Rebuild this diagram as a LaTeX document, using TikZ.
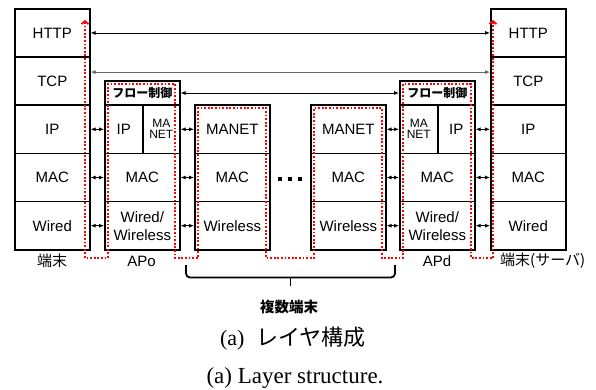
\documentclass[tikz,border=0pt]{standalone}
\usepackage{fontspec}
\setmainfont{Liberation Serif}
\newfontfamily\sansf{Liberation Sans}
\newfontfamily\jpf{Noto Sans CJK JP}
\usetikzlibrary{arrows.meta}

\begin{document}
\begin{tikzpicture}[x=1pt,y=-1pt,
  cell/.style={draw, line width=1.6pt, inner sep=0pt, anchor=north west,
    align=center, font=\sansf\fontsize{15}{18}\selectfont},
  row/.style={cell, minimum width=75, minimum height=48.2},
  half/.style={cell, minimum width=#1, minimum height=48.2},
  flowbox/.style={cell, minimum width=75, minimum height=24.4,
    font=\jpf\bfseries\fontsize{12}{14}\selectfont},
  small/.style={font=\sansf\fontsize{12}{13}\selectfont},
  link/.style={line width=0.8pt, {Latex[length=5pt,width=4pt]}-{Latex[length=5pt,width=4pt]}},
  route/.style={red, line width=1.7pt, dash pattern=on 1.8pt off 1.8pt,
    {Straight Barb[length=3pt,width=7pt]}-{Straight Barb[length=3pt,width=7pt]}},
  lbl/.style={font=\sansf\fontsize{15}{18}\selectfont, inner sep=0pt},
  jlbl/.style={font=\jpf\fontsize{15}{18}\selectfont, inner sep=0pt}]
\useasboundingbox (0,0) rectangle (596,389);

% terminal (left)
\node[row] (lhttp)  at (14,8)     {HTTP};
\node[row] (ltcp)   at (14,56.2)  {TCP};
\node[row] (lip)    at (14,104.4) {IP};
\node[row] (lmac)   at (14,152.6) {MAC};
\node[row] (lwired) at (14,200.8) {Wired};

% APo
\node[flowbox] (oflow) at (104,80) {フロー制御};
\node[half=38] (oip)    at (104,104.4) {IP};
\node[half=37, small] (omanet) at (142,104.4) {MA\\[-2pt]NET};
\node[row] (omac)   at (104,152.6) {MAC};
\node[row] (owire)  at (104,200.8) {Wired/\\Wireless};

% relay terminal A
\node[row] (ama)  at (194,104.4) {MANET};
\node[row] (amac) at (194,152.6) {MAC};
\node[row] (awl)  at (194,200.8) {Wireless};

% relay terminal B
\node[row] (bma)  at (310,104.4) {MANET};
\node[row] (bmac) at (310,152.6) {MAC};
\node[row] (bwl)  at (310,200.8) {Wireless};

% APd
\node[flowbox] (dflow) at (399,80) {フロー制御};
\node[half=38, small] (dmanet) at (399,104.4) {MA\\[-2pt]NET};
\node[half=37] (dip)    at (437,104.4) {IP};
\node[row] (dmac)   at (399,152.6) {MAC};
\node[row] (dwire)  at (399,200.8) {Wired/\\Wireless};

% terminal (server)
\node[row] (rhttp)  at (490,8)     {HTTP};
\node[row] (rtcp)   at (490,56.2)  {TCP};
\node[row] (rip)    at (490,104.4) {IP};
\node[row] (rmac)   at (490,152.6) {MAC};
\node[row] (rwired) at (490,200.8) {Wired};

% end-to-end and peer links
\draw[link] (lhttp.east) -- (rhttp.west);
\draw[link, black!60] ([yshift=9]ltcp.east) -- ([yshift=9]rtcp.west);
\draw[link] (oflow.east) -- (dflow.west);
\draw[link] (lip.east) -- (oip.west);
\draw[link] (lmac.east) -- (omac.west);
\draw[link] (lwired.east) -- (owire.west);
\draw[link] (omanet.east) -- (ama.west);
\draw[link] (omac.east) -- (amac.west);
\draw[link] (owire.east) -- (awl.west);
\draw[link] (bma.east) -- (dmanet.west);
\draw[link] (bmac.east) -- (dmac.west);
\draw[link] (bwl.east) -- (dwire.west);
\draw[link] (dip.east) -- (rip.west);
\draw[link] (dmac.east) -- (rmac.west);
\draw[link] (dwire.east) -- (rwired.west);

% ellipsis between relay terminals
\foreach \dx in {280,290,300} \fill (\dx-1.6,177.4) rectangle (\dx+1.6,180.6);

% data route through the stacks
\draw[route] (85,20) -- (85,258) -- (108,258) -- (108,84) -- (175,84) -- (175,258)
  -- (198,258) -- (198,108) -- (266,108) -- (266,258) -- (314,258) -- (314,108)
  -- (382,108) -- (382,258) -- (403,258) -- (403,84) -- (471,84) -- (471,258)
  -- (493,258) -- (493,20);

% labels
\node[jlbl] (t1) at (52,261) {端末};
\node[lbl] (apo) at (141.5,261.5) {APo};
\node[lbl] (apd) at (437,261.5) {APd};
\node[jlbl, anchor=west] (t2) at (500,261) {端末(サーバ)};

% brace under the relay terminals
\draw[line width=1.8pt, rounded corners=4] (186,265) -- (186,277.5) -- (395,277.5) -- (395,265);
\draw[line width=1.8pt] (290.5,277.5) -- (290.5,285.5);
\node[font=\jpf\bfseries\fontsize{14.5}{16}\selectfont, inner sep=0pt] (multi) at (289,307.5) {複数端末};

% captions
\node[inner sep=0pt, anchor=base] (capj) at (293,345)
  {\fontsize{22}{24}\selectfont (a)\hspace{12pt}{\jpf レイヤ構成}};
\node[inner sep=0pt, anchor=base] (cape) at (295,383)
  {\fontsize{23}{26}\selectfont (a) Layer structure.};
\end{tikzpicture}
\end{document}
